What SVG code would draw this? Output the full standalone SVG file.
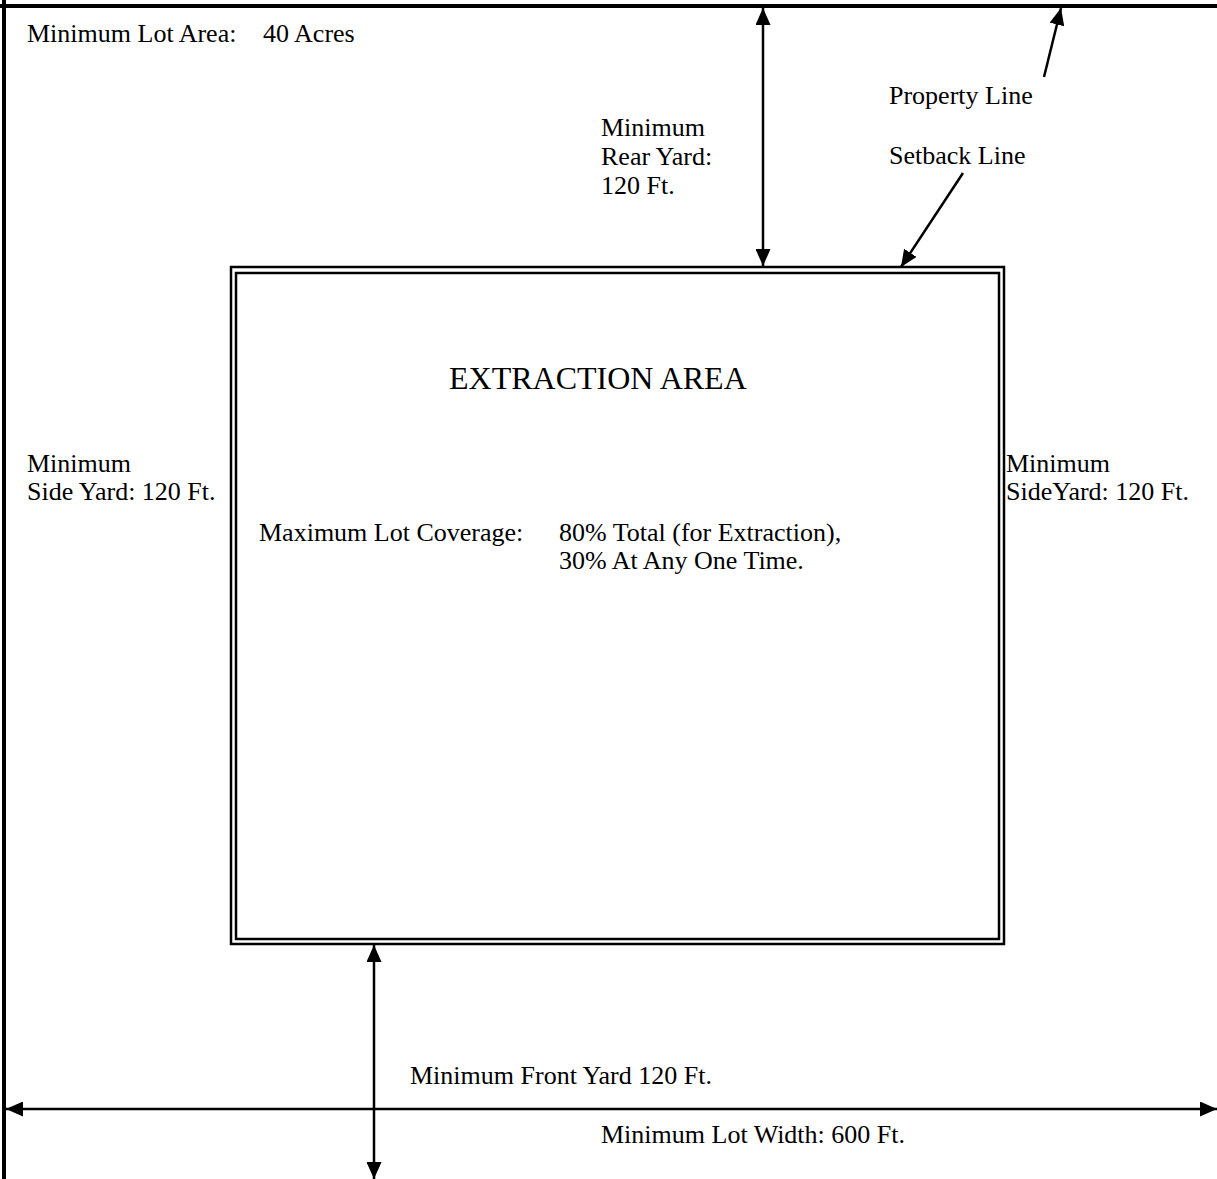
<svg xmlns="http://www.w3.org/2000/svg" width="1217" height="1179" viewBox="0 0 1217 1179">
<style>
  text { font-family: "Liberation Serif", "Times New Roman", serif; font-size: 26px; fill: #000; }
  .big { font-size: 32px; }
  .border { stroke: #000; stroke-width: 4; fill: none; }
  .box { stroke: #000; stroke-width: 2.5; fill: none; }
  .conn line { stroke: #000; stroke-width: 2.5; }
</style>
<defs>
  <marker id="ah" markerUnits="userSpaceOnUse" markerWidth="17" markerHeight="15" refX="17" refY="7.5" orient="auto-start-reverse" viewBox="0 0 17 15">
    <path d="M0,0 L17,7.5 L0,15 z" fill="#000"/>
  </marker>
</defs>
<rect width="1217" height="1179" fill="#fff"/>
<g id="property-boundary">
  <line class="border" x1="0" y1="6" x2="1217" y2="6"/>
  <line class="border" x1="4" y1="0" x2="4" y2="1179"/>
</g>
<g id="extraction-area">
  <rect class="box" x="231" y="267" width="773" height="677"/>
  <rect class="box" x="236" y="273" width="763" height="666"/>
  <text class="big" x="449" y="389">EXTRACTION AREA</text>
  <text x="259" y="541">Maximum Lot Coverage:</text>
  <text x="559" y="541">80% Total (for Extraction),</text>
  <text x="559" y="569">30% At Any One Time.</text>
</g>
<g id="lot-area-label">
  <text x="27" y="42">Minimum Lot Area:</text>
  <text x="263" y="42">40 Acres</text>
</g>
<g id="rear-yard-label">
  <text x="601" y="136">Minimum</text>
  <text x="601" y="165">Rear Yard:</text>
  <text x="601" y="194">120 Ft.</text>
</g>
<g id="property-line-label">
  <text x="889" y="104">Property Line</text>
</g>
<g id="setback-line-label">
  <text x="889" y="164">Setback Line</text>
</g>
<g id="side-yard-left-label">
  <text x="27" y="472">Minimum</text>
  <text x="27" y="500">Side Yard: 120 Ft.</text>
</g>
<g id="side-yard-right-label">
  <text x="1006" y="472">Minimum</text>
  <text x="1006" y="500">SideYard: 120 Ft.</text>
</g>
<g id="front-yard-label">
  <text x="410" y="1084">Minimum Front Yard 120 Ft.</text>
</g>
<g id="lot-width-label">
  <text x="601" y="1143">Minimum Lot Width: 600 Ft.</text>
</g>
<g id="connectors" class="conn">
  <line x1="763" y1="8" x2="763" y2="266" marker-start="url(#ah)" marker-end="url(#ah)"/>
  <line x1="1044" y1="77" x2="1061" y2="8" marker-end="url(#ah)"/>
  <line x1="963" y1="173" x2="901" y2="267" marker-end="url(#ah)"/>
  <line x1="374" y1="945" x2="374" y2="1179" marker-start="url(#ah)" marker-end="url(#ah)"/>
  <line x1="6" y1="1109" x2="1217" y2="1109" marker-start="url(#ah)" marker-end="url(#ah)"/>
</g>
</svg>
